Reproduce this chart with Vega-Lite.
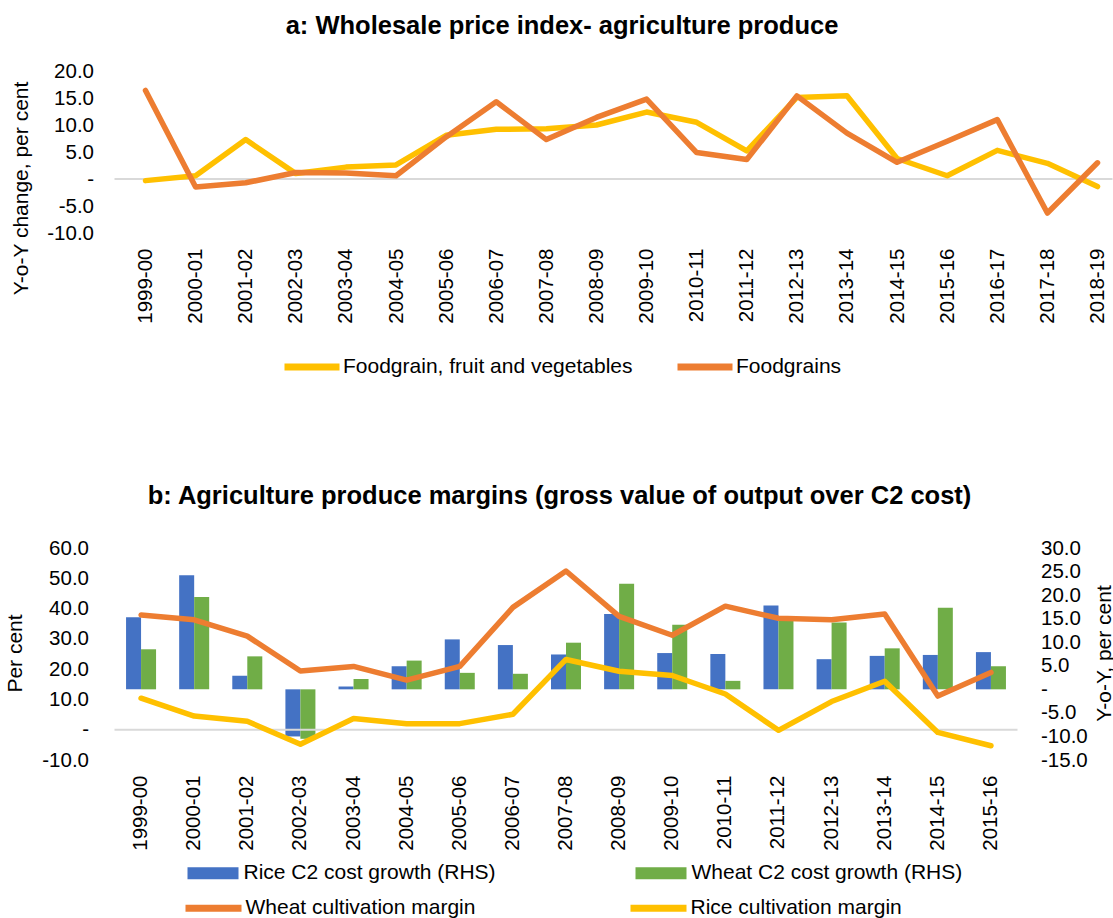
{
  "$schema": "https://vega.github.io/schema/vega-lite/v6.json",
  "padding": {"left": 4.5, "top": 13, "right": 0, "bottom": 0},
  "bounds": "flush",
  "spacing": 315,
  "config": {
    "font": "Liberation Sans",
    "view": {"stroke": null},
    "axis": {"grid": false, "domain": false, "ticks": false, "labelFont": "Liberation Sans", "labelFontSize": 20.5, "labelColor": "#000000", "titleFont": "Liberation Sans", "titleFontSize": 21, "titleFontWeight": "normal", "titleColor": "#000000", "labelOverlap": false, "labelLimit": 0},
    "axisX": {"labelAngle": -90, "labelAlign": "right", "labelBaseline": "middle", "labelPadding": 15},
    "legend": {"labelFont": "Liberation Sans", "labelFontSize": 21, "labelColor": "#000000", "padding": 0, "labelLimit": 0},
    "title": {"font": "Liberation Sans", "fontSize": 25.5, "fontWeight": "bold", "color": "#000000", "anchor": "middle", "frame": "bounds"}
  },
  "datasets": {
    "wpi": [
      {"year": "1999-00", "series": "Foodgrain, fruit and vegetables", "value": -0.3},
      {"year": "2000-01", "series": "Foodgrain, fruit and vegetables", "value": 0.6},
      {"year": "2001-02", "series": "Foodgrain, fruit and vegetables", "value": 7.3},
      {"year": "2002-03", "series": "Foodgrain, fruit and vegetables", "value": 1.0},
      {"year": "2003-04", "series": "Foodgrain, fruit and vegetables", "value": 2.2},
      {"year": "2004-05", "series": "Foodgrain, fruit and vegetables", "value": 2.6},
      {"year": "2005-06", "series": "Foodgrain, fruit and vegetables", "value": 8.1},
      {"year": "2006-07", "series": "Foodgrain, fruit and vegetables", "value": 9.2},
      {"year": "2007-08", "series": "Foodgrain, fruit and vegetables", "value": 9.3},
      {"year": "2008-09", "series": "Foodgrain, fruit and vegetables", "value": 10.0},
      {"year": "2009-10", "series": "Foodgrain, fruit and vegetables", "value": 12.4},
      {"year": "2010-11", "series": "Foodgrain, fruit and vegetables", "value": 10.5},
      {"year": "2011-12", "series": "Foodgrain, fruit and vegetables", "value": 5.2},
      {"year": "2012-13", "series": "Foodgrain, fruit and vegetables", "value": 15.1},
      {"year": "2013-14", "series": "Foodgrain, fruit and vegetables", "value": 15.4},
      {"year": "2014-15", "series": "Foodgrain, fruit and vegetables", "value": 3.8},
      {"year": "2015-16", "series": "Foodgrain, fruit and vegetables", "value": 0.6},
      {"year": "2016-17", "series": "Foodgrain, fruit and vegetables", "value": 5.3},
      {"year": "2017-18", "series": "Foodgrain, fruit and vegetables", "value": 2.9},
      {"year": "2018-19", "series": "Foodgrain, fruit and vegetables", "value": -1.4},
      {"year": "1999-00", "series": "Foodgrains", "value": 16.4},
      {"year": "2000-01", "series": "Foodgrains", "value": -1.5},
      {"year": "2001-02", "series": "Foodgrains", "value": -0.7},
      {"year": "2002-03", "series": "Foodgrains", "value": 1.2},
      {"year": "2003-04", "series": "Foodgrains", "value": 1.1},
      {"year": "2004-05", "series": "Foodgrains", "value": 0.6},
      {"year": "2005-06", "series": "Foodgrains", "value": 7.8},
      {"year": "2006-07", "series": "Foodgrains", "value": 14.3},
      {"year": "2007-08", "series": "Foodgrains", "value": 7.3},
      {"year": "2008-09", "series": "Foodgrains", "value": 11.4},
      {"year": "2009-10", "series": "Foodgrains", "value": 14.8},
      {"year": "2010-11", "series": "Foodgrains", "value": 4.9},
      {"year": "2011-12", "series": "Foodgrains", "value": 3.6},
      {"year": "2012-13", "series": "Foodgrains", "value": 15.4},
      {"year": "2013-14", "series": "Foodgrains", "value": 8.5},
      {"year": "2014-15", "series": "Foodgrains", "value": 3.1},
      {"year": "2015-16", "series": "Foodgrains", "value": 7.0},
      {"year": "2016-17", "series": "Foodgrains", "value": 11.0},
      {"year": "2017-18", "series": "Foodgrains", "value": -6.3},
      {"year": "2018-19", "series": "Foodgrains", "value": 3.0}
    ],
    "cost": [
      {"year": "1999-00", "series": "Rice C2 cost growth (RHS)", "value": 15.3},
      {"year": "2000-01", "series": "Rice C2 cost growth (RHS)", "value": 24.2},
      {"year": "2001-02", "series": "Rice C2 cost growth (RHS)", "value": 2.9},
      {"year": "2002-03", "series": "Rice C2 cost growth (RHS)", "value": -10.0},
      {"year": "2003-04", "series": "Rice C2 cost growth (RHS)", "value": 0.6},
      {"year": "2004-05", "series": "Rice C2 cost growth (RHS)", "value": 4.9},
      {"year": "2005-06", "series": "Rice C2 cost growth (RHS)", "value": 10.6},
      {"year": "2006-07", "series": "Rice C2 cost growth (RHS)", "value": 9.4},
      {"year": "2007-08", "series": "Rice C2 cost growth (RHS)", "value": 7.4},
      {"year": "2008-09", "series": "Rice C2 cost growth (RHS)", "value": 16.0},
      {"year": "2009-10", "series": "Rice C2 cost growth (RHS)", "value": 7.7},
      {"year": "2010-11", "series": "Rice C2 cost growth (RHS)", "value": 7.5},
      {"year": "2011-12", "series": "Rice C2 cost growth (RHS)", "value": 17.8},
      {"year": "2012-13", "series": "Rice C2 cost growth (RHS)", "value": 6.4},
      {"year": "2013-14", "series": "Rice C2 cost growth (RHS)", "value": 7.1},
      {"year": "2014-15", "series": "Rice C2 cost growth (RHS)", "value": 7.3},
      {"year": "2015-16", "series": "Rice C2 cost growth (RHS)", "value": 7.9},
      {"year": "1999-00", "series": "Wheat C2 cost growth (RHS)", "value": 8.5},
      {"year": "2000-01", "series": "Wheat C2 cost growth (RHS)", "value": 19.6},
      {"year": "2001-02", "series": "Wheat C2 cost growth (RHS)", "value": 7.0},
      {"year": "2002-03", "series": "Wheat C2 cost growth (RHS)", "value": -10.5},
      {"year": "2003-04", "series": "Wheat C2 cost growth (RHS)", "value": 2.2},
      {"year": "2004-05", "series": "Wheat C2 cost growth (RHS)", "value": 6.1},
      {"year": "2005-06", "series": "Wheat C2 cost growth (RHS)", "value": 3.5},
      {"year": "2006-07", "series": "Wheat C2 cost growth (RHS)", "value": 3.3},
      {"year": "2007-08", "series": "Wheat C2 cost growth (RHS)", "value": 9.9},
      {"year": "2008-09", "series": "Wheat C2 cost growth (RHS)", "value": 22.4},
      {"year": "2009-10", "series": "Wheat C2 cost growth (RHS)", "value": 13.7},
      {"year": "2010-11", "series": "Wheat C2 cost growth (RHS)", "value": 1.8},
      {"year": "2011-12", "series": "Wheat C2 cost growth (RHS)", "value": 15.3},
      {"year": "2012-13", "series": "Wheat C2 cost growth (RHS)", "value": 14.2},
      {"year": "2013-14", "series": "Wheat C2 cost growth (RHS)", "value": 8.7},
      {"year": "2014-15", "series": "Wheat C2 cost growth (RHS)", "value": 17.3},
      {"year": "2015-16", "series": "Wheat C2 cost growth (RHS)", "value": 4.9}
    ],
    "margin": [
      {"year": "1999-00", "series": "Wheat cultivation margin", "value": 37.9},
      {"year": "2000-01", "series": "Wheat cultivation margin", "value": 36.3},
      {"year": "2001-02", "series": "Wheat cultivation margin", "value": 30.9},
      {"year": "2002-03", "series": "Wheat cultivation margin", "value": 19.4},
      {"year": "2003-04", "series": "Wheat cultivation margin", "value": 20.9},
      {"year": "2004-05", "series": "Wheat cultivation margin", "value": 16.4},
      {"year": "2005-06", "series": "Wheat cultivation margin", "value": 20.9},
      {"year": "2006-07", "series": "Wheat cultivation margin", "value": 40.4},
      {"year": "2007-08", "series": "Wheat cultivation margin", "value": 52.4},
      {"year": "2008-09", "series": "Wheat cultivation margin", "value": 37.4},
      {"year": "2009-10", "series": "Wheat cultivation margin", "value": 31.2},
      {"year": "2010-11", "series": "Wheat cultivation margin", "value": 40.8},
      {"year": "2011-12", "series": "Wheat cultivation margin", "value": 36.8},
      {"year": "2012-13", "series": "Wheat cultivation margin", "value": 36.3},
      {"year": "2013-14", "series": "Wheat cultivation margin", "value": 38.2},
      {"year": "2014-15", "series": "Wheat cultivation margin", "value": 11.1},
      {"year": "2015-16", "series": "Wheat cultivation margin", "value": 18.9},
      {"year": "1999-00", "series": "Rice cultivation margin", "value": 10.4},
      {"year": "2000-01", "series": "Rice cultivation margin", "value": 4.5},
      {"year": "2001-02", "series": "Rice cultivation margin", "value": 2.8},
      {"year": "2002-03", "series": "Rice cultivation margin", "value": -4.8},
      {"year": "2003-04", "series": "Rice cultivation margin", "value": 3.7},
      {"year": "2004-05", "series": "Rice cultivation margin", "value": 2.0},
      {"year": "2005-06", "series": "Rice cultivation margin", "value": 2.0},
      {"year": "2006-07", "series": "Rice cultivation margin", "value": 5.1},
      {"year": "2007-08", "series": "Rice cultivation margin", "value": 23.2},
      {"year": "2008-09", "series": "Rice cultivation margin", "value": 19.3},
      {"year": "2009-10", "series": "Rice cultivation margin", "value": 17.9},
      {"year": "2010-11", "series": "Rice cultivation margin", "value": 11.8},
      {"year": "2011-12", "series": "Rice cultivation margin", "value": -0.2},
      {"year": "2012-13", "series": "Rice cultivation margin", "value": 9.3},
      {"year": "2013-14", "series": "Rice cultivation margin", "value": 16.0},
      {"year": "2014-15", "series": "Rice cultivation margin", "value": -0.9},
      {"year": "2015-16", "series": "Rice cultivation margin", "value": -5.3}
    ]
  },
  "vconcat": [
    {
      "width": 998,
      "height": 162,
      "title": {"text": "a: Wholesale price index- agriculture produce", "offset": 22},
      "layer": [
        {
          "data": {"values": [{}]},
          "mark": {"type": "rule", "color": "#D9D9D9", "strokeWidth": 2},
          "encoding": {"y": {"datum": 0, "type": "quantitative", "title": "Y-o-Y change, per cent",
                  "scale": {"domain": [-10, 20], "nice": false, "zero": false},
                  "axis": {"values": [-10, -5, 0, 5, 10, 15, 20], "labelOverlap": false, "labelPadding": 21, "titleAngle": 270, "titleX": -93, "titleY": 117, "titleAlign": "center", "titleBaseline": "middle",
                           "labelExpr": "datum.value == 0 ? '-\u00a0\u00a0' : (datum.value < 0 ? '-' + format(-datum.value, '.1f') : format(datum.value, '.1f'))"}}}
        },
        {
          "data": {"name": "wpi"},
          "mark": {"type": "line", "strokeWidth": 5.5, "strokeJoin": "round", "strokeCap": "round"},
          "encoding": {
            "x": {"field": "year", "type": "ordinal", "title": null, "scale": {"type": "point", "padding": 0.459, "align": 0.674}, "axis": {"labelOverlap": false}},
            "y": {"field": "value", "type": "quantitative", "title": "Y-o-Y change, per cent",
                  "scale": {"domain": [-10, 20], "nice": false, "zero": false},
                  "axis": {"values": [-10, -5, 0, 5, 10, 15, 20], "labelOverlap": false, "labelPadding": 21, "titleAngle": 270, "titleX": -93, "titleY": 117, "titleAlign": "center", "titleBaseline": "middle",
                           "labelExpr": "datum.value == 0 ? '-\u00a0\u00a0' : (datum.value < 0 ? '-' + format(-datum.value, '.1f') : format(datum.value, '.1f'))"}},
            "color": {"field": "series", "type": "nominal",
                      "scale": {"domain": ["Foodgrain, fruit and vegetables", "Foodgrains"], "range": ["#FFC000", "#ED7D31"]},
                      "legend": {"title": null, "orient": "none", "direction": "horizontal", "legendX": 166.5, "legendY": 265, "symbolType": "stroke", "symbolSize": 3025, "symbolStrokeWidth": 7, "labelOffset": 0, "labelLimit": 0, "columnPadding": 30}}
          }
        }
      ]
    },
    {
      "width": 903,
      "height": 212,
      "title": {"text": "b: Agriculture produce margins (gross value of output over C2 cost)", "offset": 29},
      "layer": [
        {
          "data": {"name": "cost"},
          "mark": {"type": "bar"},
          "encoding": {
            "x": {"field": "year", "type": "ordinal", "title": null, "scale": {"paddingInner": 0.435, "paddingOuter": 0.2175}, "axis": {"labelOverlap": false}},
            "xOffset": {"field": "series", "type": "nominal", "sort": ["Rice C2 cost growth (RHS)", "Wheat C2 cost growth (RHS)"], "scale": {"paddingInner": 0, "paddingOuter": 0}},
            "y": {"field": "value", "type": "quantitative", "title": "Y-o-Y, per cent",
                  "scale": {"domain": [-15, 30], "nice": false, "zero": false},
                  "axis": {"orient": "right", "values": [-15, -10, -5, 0, 5, 10, 15, 20, 25, 30], "labelOverlap": false, "labelPadding": 23, "titleAngle": 270, "titleX": 87, "titleY": 105, "titleAlign": "center", "titleBaseline": "middle",
                           "labelExpr": "datum.value == 0 ? '-' : (datum.value < 0 ? '-' + format(-datum.value, '.1f') : format(datum.value, '.1f'))"}},
            "fill": {"field": "series", "type": "nominal",
                     "scale": {"domain": ["Rice C2 cost growth (RHS)", "Wheat C2 cost growth (RHS)"], "range": ["#4472C4", "#70AD47"]},
                     "legend": {"title": null, "orient": "none", "direction": "horizontal", "legendX": 73, "legendY": 776.5, "symbolType": "M-1,-0.235H1V0.235H-1Z", "symbolSize": 2601, "symbolStrokeWidth": 0, "labelOffset": 5, "labelLimit": 0, "columnPadding": 139}}
          }
        },
        {
          "layer": [
            {
              "data": {"values": [{}]},
              "mark": {"type": "rule", "color": "#D9D9D9", "strokeWidth": 2},
              "encoding": {"y": {"datum": 0, "type": "quantitative", "title": "Per cent",
                      "scale": {"domain": [-10, 60], "nice": false, "zero": false},
                      "axis": {"orient": "left", "values": [-10, 0, 10, 20, 30, 40, 50, 60], "labelOverlap": false, "labelPadding": 26, "titleAngle": 270, "titleX": -99, "titleY": 105, "titleAlign": "center", "titleBaseline": "middle",
                               "labelExpr": "datum.value == 0 ? '-\u00a0\u00a0' : (datum.value < 0 ? '-' + format(-datum.value, '.1f') : format(datum.value, '.1f'))"}}}
            },
            {
              "data": {"name": "margin"},
              "mark": {"type": "line", "strokeWidth": 5.5, "strokeJoin": "round", "strokeCap": "round"},
              "encoding": {
                "x": {"field": "year", "type": "ordinal", "title": null, "axis": {"labelOverlap": false}},
                "y": {"field": "value", "type": "quantitative", "title": "Per cent",
                      "scale": {"domain": [-10, 60], "nice": false, "zero": false},
                      "axis": {"orient": "left", "values": [-10, 0, 10, 20, 30, 40, 50, 60], "labelOverlap": false, "labelPadding": 26, "titleAngle": 270, "titleX": -99, "titleY": 105, "titleAlign": "center", "titleBaseline": "middle",
                               "labelExpr": "datum.value == 0 ? '-\u00a0\u00a0' : (datum.value < 0 ? '-' + format(-datum.value, '.1f') : format(datum.value, '.1f'))"}},
                "stroke": {"field": "series", "type": "nominal",
                           "scale": {"domain": ["Wheat cultivation margin", "Rice cultivation margin"], "range": ["#ED7D31", "#FFC000"]},
                           "legend": {"title": null, "orient": "none", "direction": "horizontal", "legendX": 67.5, "legendY": 805.5, "symbolType": "stroke", "symbolSize": 3136, "symbolStrokeWidth": 7, "labelOffset": 0.5, "labelLimit": 0, "columnPadding": 140}}
              }
            }
          ]
        }
      ],
      "resolve": {"scale": {"y": "independent"}}
    }
  ]
}
